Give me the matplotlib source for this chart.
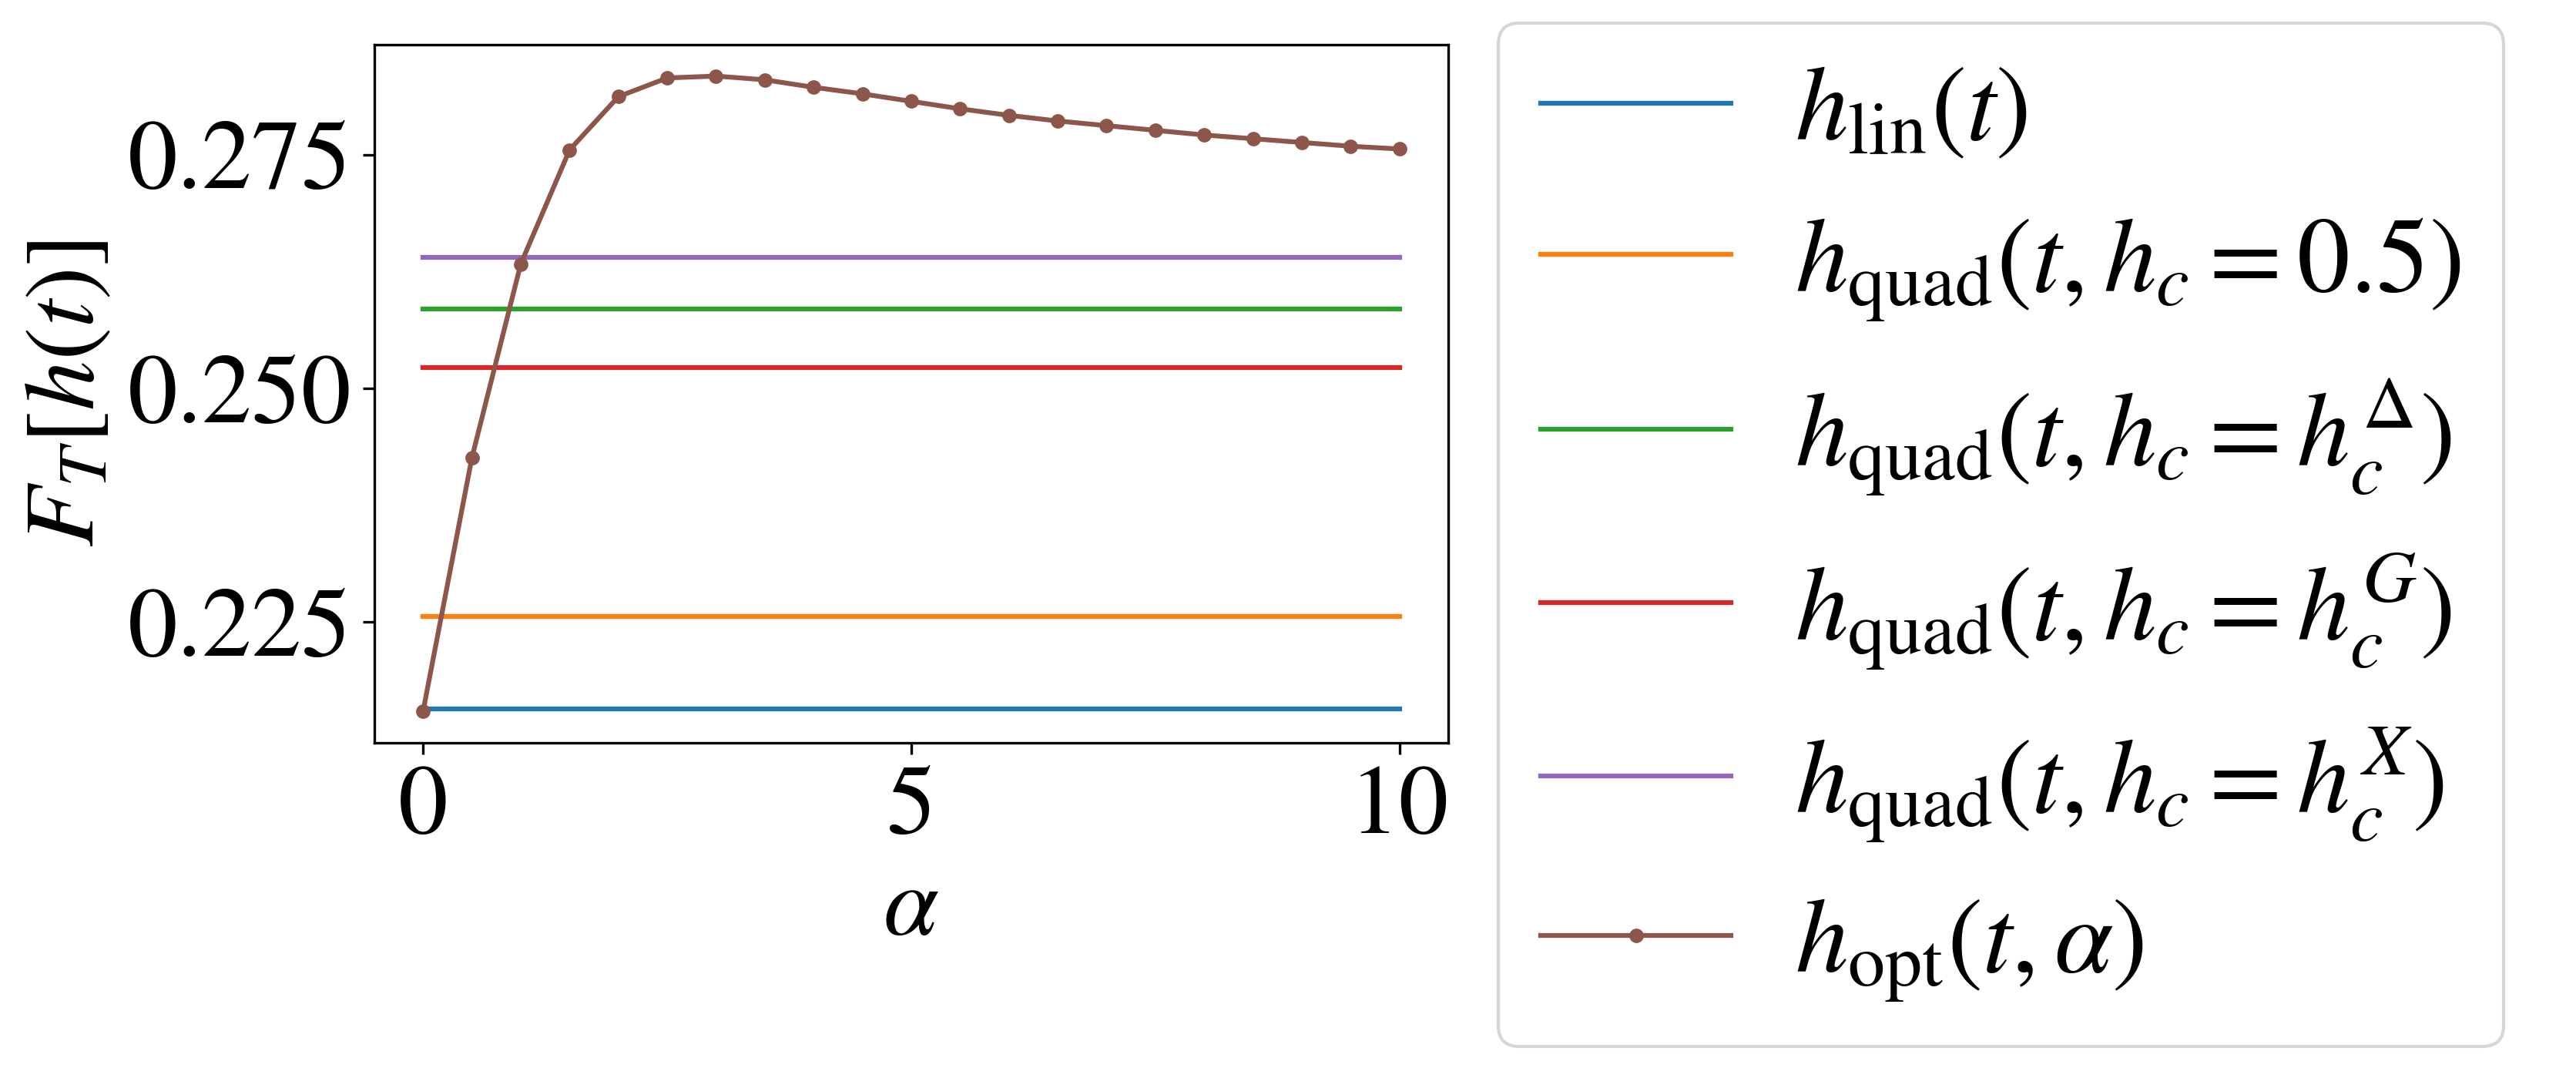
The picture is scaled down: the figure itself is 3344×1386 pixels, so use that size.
import numpy as np
import matplotlib
matplotlib.use("Agg")
import matplotlib.pyplot as plt

# 数据：alpha 取值和各曲线的 F_T 值
alpha = [0.0, 0.5, 1.0, 1.5, 2.0, 2.5, 3.0, 3.5, 4.0, 4.5, 5.0,
         5.5, 6.0, 6.5, 7.0, 7.5, 8.0, 8.5, 9.0, 9.5, 10.0]
f_opt = [0.2155, 0.2426, 0.2633, 0.2755, 0.2812, 0.2832, 0.2834, 0.2830,
         0.2822, 0.2815, 0.2807, 0.2799, 0.2792, 0.2786, 0.2781, 0.2776,
         0.2771, 0.2767, 0.2763, 0.2759, 0.2756]
f_lin = 0.2157
f_quad_05 = 0.2256
f_quad_delta = 0.2585
f_quad_g = 0.2522
f_quad_x = 0.2640

labels = [r"$h_{\mathrm{lin}}(t)$",
          r"$h_{\mathrm{quad}}(t, h_c = 0.5)$",
          r"$h_{\mathrm{quad}}(t, h_c = h_c^{\Delta})$",
          r"$h_{\mathrm{quad}}(t, h_c = h_c^{G})$",
          r"$h_{\mathrm{quad}}(t, h_c = h_c^{X})$",
          r"$h_{\mathrm{opt}}(t, \alpha)$"]

plt.rcParams['mathtext.fontset'] = 'stix'
plt.rcParams['font.family'] = ['STIXGeneral']
plt.rcParams['font.size'] = 30

fig = plt.figure(figsize=(3344 / 300, 1386 / 300), dpi=300)
ax = fig.add_axes([0.1453, 0.3045, 0.5622 - 0.1453, 0.9585 - 0.3045])

a = np.array(alpha)
ax.plot(a, np.full_like(a, f_lin), color='C0', lw=1.5, label=labels[0])
ax.plot(a, np.full_like(a, f_quad_05), color='C1', lw=1.5, label=labels[1])
ax.plot(a, np.full_like(a, f_quad_delta), color='C2', lw=1.5, label=labels[2])
ax.plot(a, np.full_like(a, f_quad_g), color='C3', lw=1.5, label=labels[3])
ax.plot(a, np.full_like(a, f_quad_x), color='C4', lw=1.5, label=labels[4])
ax.plot(a, f_opt, color='C5', lw=1.5, marker='o', ms=3.5, label=labels[5])

ax.set_yticks([0.225, 0.250, 0.275])
ax.set_xticks([0, 5, 10])
ax.tick_params(labelsize=31)
ax.set_xlabel(r"$\alpha$", fontsize=31)
ax.set_ylabel(r"$F_T[h(t)]$", fontsize=31)

fig.legend(loc='upper left', bbox_to_anchor=(0.5816, 0.978), fontsize=33,
           borderaxespad=0.0, handlelength=1.8, handletextpad=0.6)

fig.savefig("out.png", dpi=300)
